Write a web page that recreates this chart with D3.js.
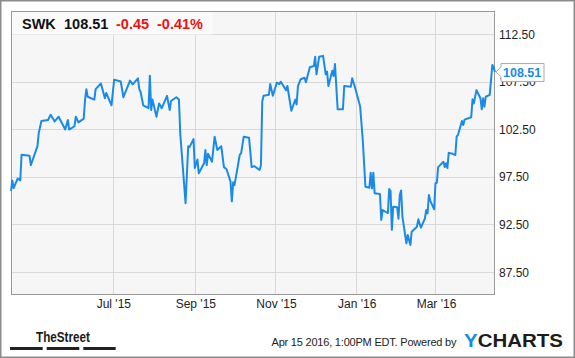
<!DOCTYPE html>
<html><head><meta charset="utf-8">
<script src="https://cdn.jsdelivr.net/npm/d3@7"></script>
<style>
body{margin:0;background:#fff;}
svg{display:block;font-family:"Liberation Sans",Arial,sans-serif;}
</style></head><body>
<svg id="c" width="575" height="358"></svg>
<script>
const dates = ["2015-04-15","2015-04-16","2015-04-17","2015-04-20","2015-04-22","2015-04-23","2015-04-29","2015-04-30","2015-05-05","2015-05-06","2015-05-08","2015-05-13","2015-05-15","2015-05-18","2015-05-21","2015-05-26","2015-05-28","2015-05-29","2015-06-02","2015-06-03","2015-06-05","2015-06-09","2015-06-10","2015-06-11","2015-06-12","2015-06-17","2015-06-18","2015-06-22","2015-06-25","2015-06-26","2015-06-30","2015-07-02","2015-07-07","2015-07-09","2015-07-14","2015-07-16","2015-07-20","2015-07-21","2015-07-22","2015-07-24","2015-07-28","2015-07-29","2015-07-30","2015-07-31","2015-08-03","2015-08-05","2015-08-07","2015-08-11","2015-08-13","2015-08-14","2015-08-18","2015-08-20","2015-08-21","2015-08-25","2015-08-27","2015-08-28","2015-08-31","2015-09-01","2015-09-03","2015-09-04","2015-09-08","2015-09-09","2015-09-10","2015-09-11","2015-09-14","2015-09-16","2015-09-18","2015-09-21","2015-09-23","2015-09-25","2015-09-28","2015-09-29","2015-09-30","2015-10-01","2015-10-05","2015-10-06","2015-10-08","2015-10-12","2015-10-14","2015-10-16","2015-10-20","2015-10-21","2015-10-22","2015-10-23","2015-10-27","2015-10-28","2015-10-30","2015-11-02","2015-11-04","2015-11-05","2015-11-09","2015-11-10","2015-11-13","2015-11-16","2015-11-17","2015-11-18","2015-11-20","2015-11-23","2015-11-24","2015-11-27","2015-11-30","2015-12-01","2015-12-02","2015-12-04","2015-12-07","2015-12-09","2015-12-10","2015-12-11","2015-12-14","2015-12-15","2015-12-16","2015-12-18","2015-12-22","2015-12-23","2015-12-28","2015-12-29","2015-12-31","2016-01-04","2016-01-06","2016-01-08","2016-01-11","2016-01-12","2016-01-13","2016-01-14","2016-01-15","2016-01-19","2016-01-20","2016-01-21","2016-01-25","2016-01-26","2016-01-27","2016-01-28","2016-01-29","2016-02-01","2016-02-02","2016-02-03","2016-02-04","2016-02-05","2016-02-08","2016-02-09","2016-02-11","2016-02-12","2016-02-16","2016-02-17","2016-02-19","2016-02-22","2016-02-23","2016-02-24","2016-02-25","2016-02-26","2016-02-29","2016-03-01","2016-03-02","2016-03-03","2016-03-07","2016-03-08","2016-03-09","2016-03-10","2016-03-11","2016-03-14","2016-03-16","2016-03-17","2016-03-18","2016-03-21","2016-03-22","2016-03-23","2016-03-28","2016-03-29","2016-03-30","2016-04-01","2016-04-04","2016-04-05","2016-04-06","2016-04-07","2016-04-08","2016-04-11","2016-04-13","2016-04-14","2016-04-15"];
const prices = [96.0,97.1,96.3,97.3,97.1,99.8,99.7,98.7,100.7,102.1,103.35,103.45,104.0,103.3,103.8,102.45,103.45,102.45,102.8,103.8,103.2,103.6,105.6,106.7,105.9,105.6,106.7,107.3,105.75,106.3,105.0,107.7,107.5,105.85,107.6,107.2,107.84,106.7,106.4,105.0,104.7,108.1,104.5,105.6,103.8,105.2,104.7,106.0,104.5,105.45,105.85,105.6,102.0,94.7,100.7,100.6,101.45,98.4,99.3,97.85,98.9,100.3,98.7,99.9,99.07,101.7,100.3,100.7,98.5,98.27,96.97,94.9,96.9,96.6,99.8,99.95,101.7,101.6,98.5,98.6,98.2,98.7,105.4,106.0,106.1,107.24,106.0,107.38,107.24,107.48,106.6,107.03,104.43,105.6,105.1,107.03,107.74,107.9,107.42,109.0,109.13,110.1,108.26,110.1,110.2,108.26,108.54,107.03,108.64,108.08,109.34,104.58,104.58,107.03,106.96,107.84,106.96,104.9,101.35,96.44,96.34,97.9,96.27,97.9,95.74,95.67,92.94,93.99,93.67,96.2,96.0,91.9,94.34,94.27,93.07,95.57,96.05,93.3,90.49,91.36,90.3,91.7,92.23,93.01,92.13,93.1,93.99,93.64,95.57,94.97,94.06,96.8,96.86,98.5,99.07,98.5,98.9,98.4,100.0,99.9,99.77,101.7,101.88,103.35,102.93,103.5,103.74,105.63,105.2,106.6,105.74,104.58,105.74,104.86,105.9,106.1,109.24,108.96,108.51];
const yTicks = [87.5, 92.5, 97.5, 102.5, 107.5, 112.5];
const xTickDates = ["2015-07-01","2015-09-01","2015-11-01","2016-01-01","2016-03-01"];
const xTickLabels = ["Jul '15","Sep '15","Nov '15","Jan '16","Mar '16"];
const ticker = "SWK", last = "108.51", chg = "-0.45", chgPct = "-0.41%";

const parse = d3.timeParse("%Y-%m-%d");
const data = dates.map((d,i)=>({date:parse(d), v:prices[i]}));
const svg = d3.select("#c");
const L=11, R=495, T=11, B=295;
const x = d3.scaleTime().domain([parse("2015-04-15"), parse("2016-04-15")]).range([L,R]);
const y = d3.scaleLinear().domain([85.05,114.92]).range([B,T]);

// outer border
svg.append("rect").attr("x",0.75).attr("y",0.75).attr("width",573.5).attr("height",356.5)
  .attr("fill","#fff").attr("stroke","#8c8c8c").attr("stroke-width",1.5);
// plot bg
svg.append("rect").attr("x",L).attr("y",T).attr("width",R-L).attr("height",B-T).attr("fill","#f6f6f6");

// grid
const g = svg.append("g");
g.selectAll(".hg").data(yTicks).join("line")
  .attr("x1",L).attr("x2",R).attr("y1",d=>Math.round(y(d))+0.5).attr("y2",d=>Math.round(y(d))+0.5)
  .attr("stroke","#d9d9d9").attr("stroke-width",1);
g.selectAll(".vg").data(xTickDates).join("line")
  .attr("y1",T).attr("y2",B).attr("x1",d=>Math.round(x(parse(d)))+0.5).attr("x2",d=>Math.round(x(parse(d)))+0.5)
  .attr("stroke","#d9d9d9").attr("stroke-width",1);

// header box
svg.append("rect").attr("x",L+0.5).attr("y",T+0.5).attr("width",201).attr("height",23)
  .attr("fill","#fafafa");
const hdr = svg.append("text").attr("x",22).attr("y",29).attr("font-size",14.5).attr("font-weight","bold");
hdr.append("tspan").attr("fill","#111").text(ticker);
hdr.append("tspan").attr("fill","#111").attr("x",64).text(last);
hdr.append("tspan").attr("fill","#ee1111").attr("x",116).text(chg);
hdr.append("tspan").attr("fill","#ee1111").attr("x",157).text(chgPct);

// plot border
svg.append("rect").attr("x",L+0.5).attr("y",T+0.5).attr("width",R-L-1).attr("height",B-T-1)
  .attr("fill","none").attr("stroke","#999");

// y axis
const yAxis = d3.axisRight(y).tickValues(yTicks).tickSize(0).tickPadding(0).tickFormat(d3.format(".2f"));
const ya = svg.append("g").attr("transform",`translate(${R+4},0.5)`).call(yAxis);
ya.select(".domain").remove();
ya.selectAll("text").attr("font-size",12).attr("fill","#222").attr("font-family","Liberation Sans, Arial, sans-serif");

// x axis
const xAxis = d3.axisBottom(x).tickValues(xTickDates.map(parse)).tickSize(0).tickPadding(0)
  .tickFormat((d,i)=>xTickLabels[i]);
const xa = svg.append("g").attr("transform",`translate(0.5,${B+2})`).call(xAxis);
xa.select(".domain").remove();
xa.selectAll("text").attr("font-size",12).attr("fill","#222").attr("dy","0.95em").attr("font-family","Liberation Sans, Arial, sans-serif");

// line
svg.append("path").datum(data)
  .attr("d", d3.line().x(d=>x(d.date)).y(d=>y(d.v)))
  .attr("fill","none").attr("stroke","#1a8ae8").attr("stroke-width",2).attr("stroke-linejoin","round");

// end label
const lastPt = data[data.length-1];
const lx = x(lastPt.date), ly = y(lastPt.v);
svg.append("path")
  .attr("d",`M${lx+1},${ly} L${lx+6},${ly-5} L${lx+6},${ly-8.5} L${lx+49},${ly-8.5} L${lx+49},${ly+9.5} L${lx+6},${ly+9.5} L${lx+6},${ly+5} Z`)
  .attr("fill","#fff").attr("stroke","#aaa").attr("stroke-width",1);
svg.append("text").attr("x",lx+8).attr("y",ly+5).attr("font-size",12.5).attr("font-weight","bold")
  .attr("fill","#1a8ae8").text(lastPt.v.toFixed(2));

// footer
svg.append("text").attr("x",36).attr("y",341.5).attr("font-size",15).attr("font-weight","bold")
  .attr("fill","#1a1a1a").attr("textLength",54).attr("lengthAdjust","spacingAndGlyphs").text("TheStreet");
[[10,42.7],[46.7,79.3],[83.3,115.7]].forEach(([a,b])=>{
  svg.append("rect").attr("x",a).attr("y",347).attr("width",b-a).attr("height",3).attr("fill","#222");
});
svg.append("text").attr("x",271.5).attr("y",346).attr("font-size",11).attr("fill","#222")
  .attr("textLength",185).attr("lengthAdjust","spacing")
  .text("Apr 15 2016, 1:00PM EDT.  Powered by");
const yc = svg.append("text").attr("x",464).attr("y",347).attr("font-size",17.5).attr("font-weight","bold")
  .attr("textLength",99).attr("lengthAdjust","spacingAndGlyphs");
yc.append("tspan").attr("fill","#1a8ae8").text("Y");
yc.append("tspan").attr("fill","#1c1c1c").text("CHARTS");
</script></body></html>
